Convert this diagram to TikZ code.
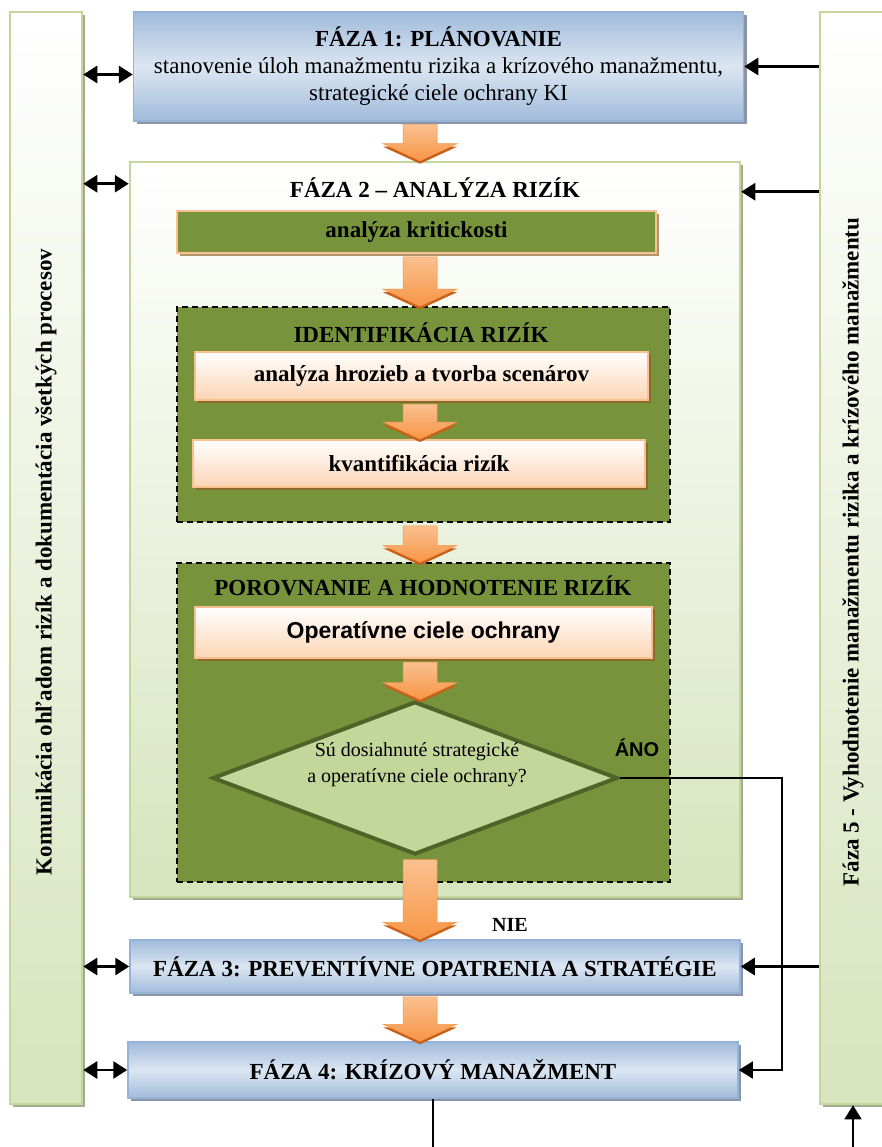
\documentclass[tikz,border=0pt]{standalone}
\usepackage{fontspec}
\setmainfont{Liberation Serif}
\setsansfont{Liberation Sans}
\usepackage{tikz}
\usetikzlibrary{arrows.meta,shapes.geometric,shadows,calc,positioning}

\definecolor{modra}{HTML}{95B3D7}
\definecolor{modrasvetla}{HTML}{DCE6F2}
\definecolor{modratien}{HTML}{8A96A6}
\definecolor{zelena}{HTML}{C3D69B}
\definecolor{zelenasvetla}{HTML}{D7E4BD}
\definecolor{zelenatien}{HTML}{A3AC90}
\definecolor{oliva}{HTML}{77933C}
\definecolor{olivatmava}{HTML}{4F6228}
\definecolor{broskyna}{HTML}{FAC090}
\definecolor{broskynasvetla}{HTML}{FCD5B5}
\definecolor{hneda}{HTML}{8C6A2C}
\definecolor{oranzova}{HTML}{F79646}
\definecolor{oranzovatmava}{HTML}{C8601A}
\definecolor{kosostvorec}{HTML}{C4D79B}

\begin{document}
\begin{tikzpicture}[x=1pt,y=-1pt,
  every node/.style={inner sep=0pt,font=\fontsize{23}{27}\selectfont},
  tien/.style={drop shadow={shadow xshift=3pt,shadow yshift=-3pt,fill=#1,opacity=1}},
  pruh/.style={draw=zelena,line width=2.5pt,top color=white,bottom color=zelenasvetla,tien=zelenatien},
  faza/.style={draw=modra,line width=1.5pt,top color=modra!90,bottom color=modra!90,middle color=modrasvetla,tien=modratien,align=center,minimum width=610,font=\fontsize{23}{27}\selectfont\bfseries},
  tucne/.style={font=\fontsize{23}{27}\selectfont\bfseries},
  olivovy/.style={fill=oliva,draw=broskyna,line width=2pt,tien=hneda!70,font=\fontsize{23}{27}\selectfont\bfseries},
  krok/.style={top color=white,bottom color=broskynasvetla,draw=broskyna,line width=2pt,tien=hneda,font=\fontsize{23}{27}\selectfont\bfseries},
  skupina/.style={fill=oliva,draw=black,line width=1.5pt,dash pattern=on 6pt off 4pt},
  otazka/.style={diamond,draw=olivatmava,line width=4pt,fill=kosostvorec,minimum width=405,minimum height=153},
  blok/.style={top color=broskyna,bottom color=oranzova,draw=oranzova,line width=0.5pt,drop shadow={shadow xshift=0pt,shadow yshift=-3pt,fill=oranzovatmava,opacity=1}},
  obe/.style={{Triangle[length=14pt,width=17pt]}-{Triangle[length=14pt,width=17pt]},line width=2.8pt},
  sipkacara/.style={-{Triangle[length=14pt,width=17pt]},line width=2.8pt},
  tenka/.style={line width=1.5pt}]

\useasboundingbox (0,0) rectangle (881,1147);

% bocne pruhy
\node[pruh,minimum width=72,minimum height=1092] (komunikacia) at (46,558) {};
\node[tucne,rotate=90] (komunikacia text) at (46,562) {Komunikácia ohľadom rizík a dokumentácia všetkých procesov};
\node[pruh,minimum width=66,minimum height=1092] (vyhodnotenie) at (853,558) {};
\node[tucne,rotate=90] (vyhodnotenie text) at (853,552) {Fáza 5 - Vyhodnotenie manažmentu rizika a krízového manažmentu};

% fazy
\node[faza,minimum height=109,font=\fontsize{23}{27}\selectfont] (faza1) at (438.5,66.5) {{\bfseries FÁZA 1: PLÁNOVANIE}\\stanovenie úloh manažmentu rizika a krízového manažmentu,\\strategické ciele ochrany KI};
\node[pruh,minimum width=610,minimum height=735] (faza2) at (435,529.5) {};
\node[tucne] (faza2 nadpis) at (435,188) {FÁZA 2 – ANALÝZA RIZÍK};
\node[olivovy,minimum width=479,minimum height=42] (kritickost) at (416.5,232) {analýza kritickosti};

\node[skupina,minimum width=493,minimum height=215] (identifikacia) at (423.5,414.5) {};
\node[tucne] (identifikacia nadpis) at (421,333) {IDENTIFIKÁCIA RIZÍK};
\node[krok,minimum width=453,minimum height=48] (hrozby) at (421.5,376) {analýza hrozieb a tvorba scenárov};
\node[krok,minimum width=452,minimum height=47] (kvantifikacia) at (419,463.5) {kvantifikácia rizík};

\node[skupina,minimum width=493,minimum height=319] (porovnanie) at (423.5,722.5) {};
\node[tucne] (porovnanie nadpis) at (423,586) {POROVNANIE A HODNOTENIE RIZÍK};
\node[krok,minimum width=457,minimum height=51,font=\fontsize{23}{27}\selectfont\sffamily\bfseries] (ciele) at (423.5,632.5) {Operatívne ciele ochrany};
\node[otazka] (otazka) at (415,778) {};
\node[align=center,font=\fontsize{20}{26}\selectfont] (otazka text) at (417,765) {Sú dosiahnuté strategické\\a operatívne ciele ochrany?};
\node[font=\fontsize{20}{24}\selectfont\sffamily\bfseries] (ano) at (637,748) {ÁNO};

\node[faza,minimum height=53] (faza3) at (435,966.5) {FÁZA 3: PREVENTÍVNE OPATRENIA A STRATÉGIE};
\node[font=\fontsize{20}{24}\selectfont\bfseries] (nie) at (510,925) {NIE};
\node[faza,minimum height=56] (faza4) at (433,1070) {FÁZA 4: KRÍZOVÝ MANAŽMENT};

% oranzove sipky
\coordinate (os) at (420,0);
\foreach \odkial/\kam in {faza1/faza2,kritickost/identifikacia,hrozby/kvantifikacia,identifikacia/porovnanie,ciele/otazka,otazka/faza3,faza3/faza4}
  \path[blok] let \p1=(\odkial.south -| os), \p2=(\kam.north -| os) in
    (\x1-17,\y1-3) -- (\x1+17,\y1-3) -- (\x1+17,\y2+17) -- (\x1+37,\y2+17) -- (\x1,\y2) -- (\x1-37,\y2+17) -- (\x1-17,\y2+17) -- cycle;

% spojnice
\coordinate (vstup1) at ([yshift=-8pt]faza1.west);
\coordinate (vstup2) at ([yshift=-23pt]faza2.north west);
\coordinate (vstup5) at ([yshift=-31pt]faza2.north east);
\coordinate (zlom) at (782,0);
\coordinate (dole) at (0,1150);

\path[obe] (komunikacia.east |- vstup1) edge (vstup1)
           (komunikacia.east |- vstup2) edge (vstup2)
           (komunikacia.east |- faza3.west) edge (faza3.west)
           (komunikacia.east |- faza4.west) edge (faza4.west);
\path[sipkacara] (vyhodnotenie.west |- faza1.east) edge (faza1.east)
                 (vyhodnotenie.west |- vstup5) edge (vstup5)
                 (vyhodnotenie.west |- faza3.east) edge (faza3.east);
\draw[tenka,-{Triangle[length=14pt,width=17pt]}] (otazka.east) -| (zlom |- faza4.east) -- (faza4.east);
\draw[tenka] (faza4.south) -- (faza4.south |- dole);
\draw[tenka,-{Triangle[length=14pt,width=17pt]}] (vyhodnotenie.south |- dole) -- (vyhodnotenie.south);

\end{tikzpicture}
\end{document}
